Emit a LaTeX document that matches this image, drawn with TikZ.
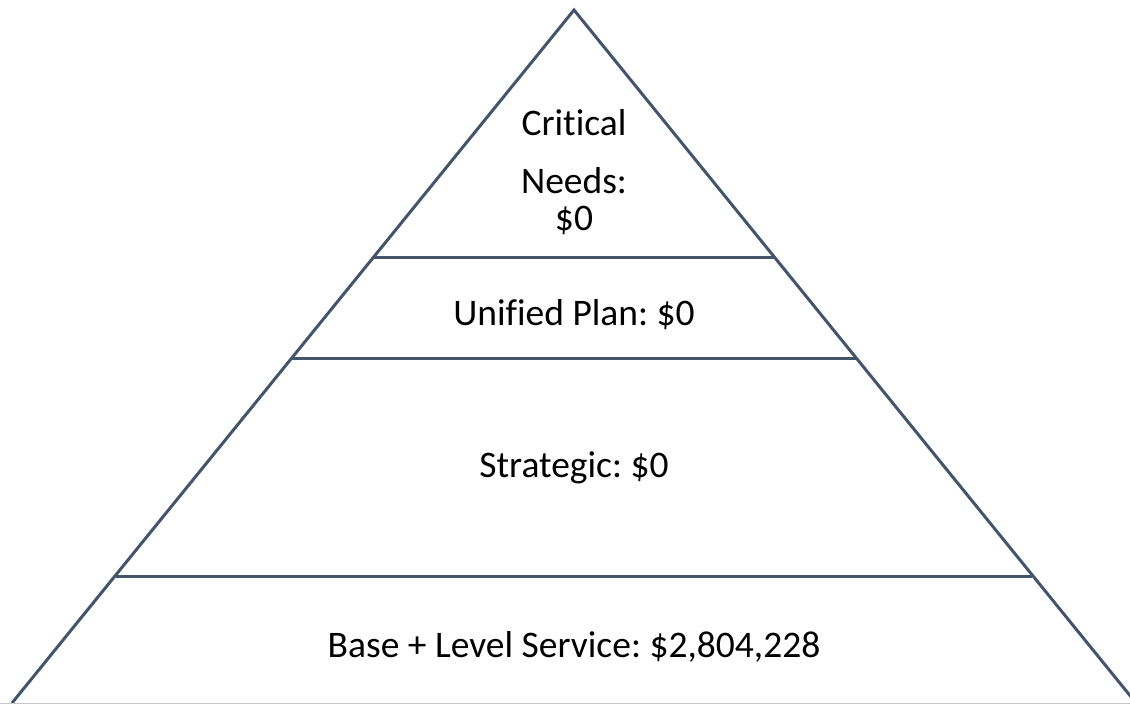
\documentclass[tikz,border=0pt]{standalone}
\usepackage{fontspec}
\setmainfont[Ligatures=NoCommon]{Carlito}
\definecolor{edge}{HTML}{44546A}
\definecolor{frame}{HTML}{C8C8C8}
\begin{document}
\frenchspacing
\begin{tikzpicture}[x=1pt,y=-1pt,
  tier/.style={draw=edge,line width=3pt},
  lbl/.style={anchor=base,inner sep=0pt,font=\fontsize{37.5}{45}\selectfont}]
\useasboundingbox (0,0) rectangle (1130,704);
\begin{scope}
\clip (0,0) rectangle (1130,704);
% pyramid outline
\coordinate (apex) at (574,10);
\coordinate (bl) at (12,703);
\coordinate (br) at (1136,703);
\draw[tier,line join=miter] (bl) -- (apex) -- (br);
% tier dividers
\coordinate (a1) at (374,257);  \coordinate (a2) at (774,257);
\coordinate (b1) at (292,358);  \coordinate (b2) at (856,358);
\coordinate (c1) at (116,576);  \coordinate (c2) at (1032,576);
\draw[tier] (a1) -- (a2);
\draw[tier] (b1) -- (b2);
\draw[tier] (c1) -- (c2);
% bottom border
\draw[frame,line width=1.2pt] (0,703.4) -- (1130,703.4);
\end{scope}
% labels
\node[lbl] (crit) at (574,135) {Critical};
\node[lbl] (needs) at (574,193) {Needs:};
\node[lbl] (cval) at (574,230) {\$0};
\node[lbl] (unif) at (574,325) {Unified Plan: \$0};
\node[lbl] (strat) at (574,477) {Strategic: \$0};
\node[lbl] (base) at (574,657) {Base + Level Service: \$2,804,228};
\end{tikzpicture}
\end{document}
